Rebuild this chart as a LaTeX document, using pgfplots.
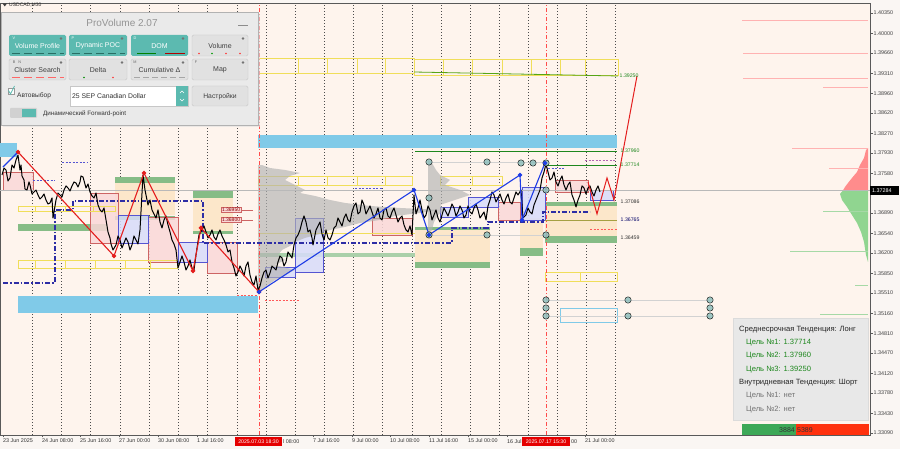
\documentclass[border=0pt]{standalone}
\usepackage{pgfplots}
\pgfplotsset{compat=1.18}
\usepackage{fontspec}
\setmainfont{Liberation Sans}
\definecolor{plotbg}{RGB}{254,244,237}
\definecolor{outbg}{RGB}{250,246,243}
\definecolor{peach}{RGB}{252,231,202}
\definecolor{zgreen}{RGB}{134,188,134}
\definecolor{skyb}{RGB}{128,202,232}
\definecolor{pinkf}{RGB}{250,216,216}
\definecolor{pinkd}{RGB}{205,100,100}
\definecolor{bluef}{RGB}{216,220,250}
\definecolor{blued}{RGB}{85,85,210}
\definecolor{yell}{RGB}{240,222,90}
\definecolor{navy2}{RGB}{45,45,165}
\definecolor{zred}{RGB}{228,30,30}
\definecolor{zblue}{RGB}{30,60,230}
\definecolor{tealdot}{RGB}{143,190,188}
\definecolor{lvlgreen}{RGB}{30,135,30}
\definecolor{panelbg}{RGB}{234,234,234}
\definecolor{btnteal}{RGB}{92,186,176}
\definecolor{btngray}{RGB}{225,225,225}
\definecolor{darkteal}{RGB}{40,110,100}
\newcommand{\tf}{\fontsize{5.4}{6}\selectfont}
\newcommand{\lf}{\fontsize{5.2}{6}\selectfont}
\begin{document}
\begin{tikzpicture}
\fill[outbg] (0,-14pt) rectangle (900pt,435pt);
\begin{axis}[
  at={(0,0)}, anchor=south west, scale only axis,
  width=870pt, height=432pt,
  xmin=0, xmax=870, ymin=1.33054, ymax=1.40523,
  axis background/.style={fill=plotbg},
  axis line style={draw=black!65, line width=0.5pt},
  tick align=outside,
  xtick pos=bottom, ytick pos=right, yticklabel pos=right,
  major tick length=2.5pt,
  tick style={black!65, line width=0.4pt},
  xtick={3,42,80,119,158,197,313,352,390,429,468,585},
  xticklabels={23 Jun 2025,24 Jun 08:00,25 Jun 16:00,27 Jun 00:00,30 Jun 08:00,1 Jul 16:00,7 Jul 16:00,9 Jul 00:00,10 Jul 08:00,11 Jul 16:00,15 Jul 00:00,21 Jul 00:00},
  x tick label style={anchor=north west, font=\tf, text=black!80, inner sep=0pt, yshift=-1pt},
  ytick={1.40350,1.40000,1.39660,1.39310,1.38960,1.38620,1.38270,1.37930,1.37580,1.36890,1.36540,1.36200,1.35850,1.35510,1.35160,1.34810,1.34470,1.34120,1.33780,1.33430,1.33090},
  yticklabels={1.40350,1.40000,1.39660,1.39310,1.38960,1.38620,1.38270,1.37930,1.37580,1.36890,1.36540,1.36200,1.35850,1.35510,1.35160,1.34810,1.34470,1.34120,1.33780,1.33430,1.33090},
  y tick label style={anchor=west, font=\tf, text=black!75, inner sep=0pt, xshift=1pt},
  clip=true,
]
% grid (vertical dotted)
\pgfplotsinvokeforeach{32,61,90,120,149,178,207,237,266,295,324,353,382,412,441,470,499,528,557,586,615}{
  \draw[black!70, line width=0.5pt, dash pattern=on 1.1pt off 1.9pt] (#1,1.33054) -- (#1,1.40523);
}
% sky bands
\fill[skyb] (0,1.38103) rectangle (17,1.37861);
\fill[skyb] (258,1.38241) rectangle (617,1.38016);
\fill[skyb] (18,1.35457) rectangle (258,1.35164);
% peach zones
\fill[peach] (115,1.37463) rectangle (175,1.36858);
\fill[peach] (193,1.37152) rectangle (233,1.36565);
\fill[peach] (415,1.36599) rectangle (490,1.35959);
\fill[peach] (520,1.36806) rectangle (543,1.36219);
\fill[peach] (545,1.37066) rectangle (617,1.36478);
% green bars
\fill[zgreen] (115,1.37515) rectangle (175,1.37411);
\fill[zgreen] (115,1.36841) rectangle (175,1.36772);
\fill[zgreen] (18,1.36703) rectangle (108,1.36582);
\fill[zgreen] (193,1.37273) rectangle (233,1.37152);
\fill[zgreen] (193,1.36582) rectangle (233,1.36530);
\fill[zgreen] (415,1.36046) rectangle (490,1.35942);
\fill[zgreen] (415,1.36651) rectangle (490,1.36599);
\fill[zgreen!70] (258,1.36201) rectangle (415,1.36132);
\fill[zgreen] (520,1.36288) rectangle (543,1.36149);
\fill[zgreen] (545,1.36495) rectangle (617,1.36374);
\fill[zgreen] (545,1.37083) rectangle (617,1.37014);
% pink boxes
\filldraw[fill=pinkf, draw=pinkd, line width=0.5pt, fill opacity=0.85] (3,1.37601) rectangle (33,1.37290);
\filldraw[fill=pinkf, draw=pinkd, line width=0.5pt, fill opacity=0.85] (90,1.37238) rectangle (118,1.36374);
\filldraw[fill=pinkf, draw=pinkd, line width=0.5pt, fill opacity=0.85] (148,1.36824) rectangle (178,1.36046);
\filldraw[fill=pinkf, draw=pinkd, line width=0.5pt, fill opacity=0.85] (207,1.36392) rectangle (237,1.35855);
\filldraw[fill=pinkf, draw=pinkd, line width=0.5pt, fill opacity=0.85] (372,1.36806) rectangle (412,1.36513);
\filldraw[fill=pinkf, draw=pinkd, line width=0.5pt, fill opacity=0.85] (498,1.37083) rectangle (520,1.36772);
\filldraw[fill=pinkf, draw=pinkd, line width=0.5pt, fill opacity=0.85] (555,1.37463) rectangle (588,1.37256);
% blue boxes
\filldraw[fill=bluef, draw=blued, line width=0.5pt, fill opacity=0.85] (118,1.36858) rectangle (148,1.36374);
\filldraw[fill=bluef, draw=blued, line width=0.5pt, fill opacity=0.85] (178,1.36392) rectangle (207,1.36046);
\filldraw[fill=bluef, draw=blued, line width=0.5pt, fill opacity=0.85] (265,1.35959) rectangle (295,1.35786);
\filldraw[fill=bluef, draw=blued, line width=0.5pt, fill opacity=0.85] (295,1.36806) rectangle (323,1.35872);
\filldraw[fill=bluef, draw=blued, line width=0.5pt, fill opacity=0.85] (440,1.36997) rectangle (468,1.36824);
\filldraw[fill=bluef, draw=blued, line width=0.5pt, fill opacity=0.85] (468,1.37169) rectangle (498,1.36997);
\filldraw[fill=bluef, draw=blued, line width=0.5pt, fill opacity=0.85] (522,1.37342) rectangle (545,1.36772);
\filldraw[fill=bluef, draw=blued, line width=0.5pt, fill opacity=0.85] (590,1.37290) rectangle (613,1.37117);
% yellow outline boxes
\begin{scope}[yell, line width=0.6pt]
\draw (258,1.39572) rectangle (298,1.39313);
\draw (298,1.39572) rectangle (327,1.39313);
\draw (327,1.39572) rectangle (357,1.39313);
\draw (357,1.39572) rectangle (385,1.39313);
\draw (385,1.39572) rectangle (414,1.39313);
\draw (414,1.39555) rectangle (443,1.39278);
\draw (443,1.39555) rectangle (472,1.39278);
\draw (472,1.39555) rectangle (502,1.39278);
\draw (502,1.39555) rectangle (531,1.39278);
\draw (531,1.39555) rectangle (560,1.39278);
\draw (560,1.39555) rectangle (585,1.39278);
\draw (585,1.39555) rectangle (618,1.39278);
\draw (258,1.37533) rectangle (298,1.37377);
\draw (298,1.37533) rectangle (327,1.37377);
\draw (327,1.37533) rectangle (357,1.37377);
\draw (357,1.37533) rectangle (385,1.37377);
\draw (385,1.37533) rectangle (412,1.37377);
\draw (440,1.37533) rectangle (472,1.37377);
\draw (472,1.37533) rectangle (502,1.37377);
\draw (18,1.37014) rectangle (35,1.36928);
\draw (35,1.37014) rectangle (65,1.36928);
\draw (65,1.37014) rectangle (93,1.36928);
\draw (93,1.37014) rectangle (115,1.36928);
\draw (18,1.36080) rectangle (35,1.35942);
\draw (35,1.36080) rectangle (65,1.35942);
\draw (65,1.36080) rectangle (95,1.35942);
\draw (95,1.36080) rectangle (125,1.35942);
\draw (125,1.36080) rectangle (150,1.35942);
\draw (150,1.36080) rectangle (177,1.35942);
\draw (545,1.35872) rectangle (580,1.35717);
\draw (580,1.35872) rectangle (617,1.35717);
\draw (258,1.36547) -- (415,1.36547);
\end{scope}
\draw[skyb, line width=0.6pt] (560,1.35250) rectangle (617,1.35008);
% gray volume profiles
\addplot[fill=gray!60, draw=none, opacity=0.65] coordinates {(258,1.37722)(262,1.37722)(270,1.37670)(285,1.37636)(300,1.37584)(290,1.37533)(285,1.37463)(295,1.37377)(305,1.37290)(300,1.37238)(315,1.37187)(330,1.37117)(345,1.37066)(370,1.37014)(400,1.36979)(440,1.36945)(420,1.36893)(395,1.36841)(380,1.36772)(360,1.36720)(345,1.36651)(330,1.36599)(320,1.36530)(305,1.36461)(295,1.36392)(290,1.36322)(282,1.36253)(278,1.36167)(285,1.36080)(275,1.35994)(295,1.35907)(285,1.35820)(275,1.35734)(268,1.35648)(262,1.35561)(258,1.35527)} -- cycle;
\addplot[fill=gray!60, draw=none, opacity=0.65] coordinates {(428,1.37809)(432,1.37757)(436,1.37636)(440,1.37550)(450,1.37463)(445,1.37377)(460,1.37290)(470,1.37204)(455,1.37117)(440,1.37031)(445,1.36945)(438,1.36858)(434,1.36737)(432,1.36599)(428,1.36513)} -- cycle;
% right volume profile
\addplot[fill=red!45, draw=none] coordinates {(868,1.38016)(866,1.37981)(864,1.37843)(860,1.37722)(857,1.37601)(852,1.37498)(848,1.37411)(845,1.37342)(843,1.37284)(868,1.37284)} -- cycle;
\addplot[fill=green!45!gray!60, draw=none] coordinates {(868,1.37284)(843,1.37284)(840,1.37221)(842,1.37117)(847,1.36997)(852,1.36858)(857,1.36720)(861,1.36565)(864,1.36392)(866,1.36167)(868,1.36046)} -- cycle;
\begin{scope}[red!30, line width=0.6pt]
\draw (742,1.40229) -- (868,1.40229);
\draw (743,1.39659) -- (868,1.39659);
\draw (743,1.39227) -- (868,1.39227);
\draw (823,1.39071) -- (868,1.39071);
\draw (792,1.38016) -- (868,1.38016);
\draw (829,1.37670) -- (868,1.37670);
\end{scope}
\begin{scope}[green!40!gray!50, line width=0.6pt]
\draw (823,1.36928) -- (868,1.36928);
\draw (790,1.36236) -- (868,1.36236);
\draw (855,1.35648) -- (868,1.35648);
\draw (820,1.35147) -- (868,1.35147);
\end{scope}
% red date verticals
\draw[red!70, line width=0.6pt, dash pattern=on 4pt off 2pt on 1pt off 2pt] (259,1.33054) -- (259,1.40523);
\draw[red!70, line width=0.6pt, dash pattern=on 4pt off 2pt on 1pt off 2pt] (546,1.33054) -- (546,1.40523);
% levels
\addplot[gray!55, line width=0.4pt] coordinates {(0,1.37284)(870,1.37284)};
\addplot[lvlgreen!75!yellow, line width=0.8pt] coordinates {(414,1.39330)(618,1.39261)};
\addplot[lvlgreen, line width=0.8pt] coordinates {(415,1.37964)(617,1.37964)};
\addplot[lvlgreen, line width=0.8pt] coordinates {(545,1.37722)(617,1.37722)};
\addplot[yellow!60!black, line width=0.7pt] coordinates {(545,1.36772)(617,1.36772)};
% thin dashed
\begin{scope}[blued, line width=0.5pt, dash pattern=on 2pt off 1.5pt]
\draw (33,1.37463) -- (55,1.37463);
\draw (62,1.37774) -- (88,1.37774);
\draw (355,1.37325) -- (382,1.37325);
\draw (548,1.37670) -- (565,1.37670);
\draw[violet!60] (585,1.37809) -- (615,1.37809);
\draw[red!65] (590,1.36616) -- (617,1.36616);
\draw[red!65] (237,1.35475) -- (258,1.35475);
\draw[red!65] (265,1.35388) -- (300,1.35388);
\end{scope}
% grey connectors and teal dots
\begin{scope}[gray!35, line width=0.6pt]
\draw (429,1.37774) -- (546,1.37774);
\draw (429,1.36513) -- (546,1.36513);
\draw (546,1.35388) -- (710,1.35388);
\draw (546,1.35112) -- (710,1.35112);
\end{scope}
\addplot[only marks, mark=*, mark size=3.2pt, mark options={fill=tealdot, draw=none, fill opacity=0.85}] coordinates {(429,1.37774)(487,1.37774)(521,1.37757)(533,1.37757)(546,1.37757)(429,1.37152)(546,1.37290)(429,1.36513)(487,1.36513)(546,1.36513)(546,1.35388)(546,1.35250)(546,1.35112)(628,1.35388)(628,1.35112)(710,1.35388)(710,1.35250)(710,1.35112)};
% dark blue dash-dot level
\addplot[navy2, line width=1.8pt, dash pattern=on 5pt off 2pt on 1.5pt off 2pt] coordinates {(3,1.35682)(55,1.35682)(55,1.36945)(73,1.36945)(73,1.37100)(203,1.37100)(203,1.36374)(452,1.36374)(452,1.36634)(488,1.36634)(488,1.36737)(543,1.36737)(543,1.36910)(590,1.36910)};
% price
\addplot[black, line width=1pt, line join=round] coordinates {(2,1.37550)(4,1.37670)(6,1.37636)(8,1.37446)(10,1.37498)(12,1.37722)(14,1.37670)(16,1.37809)(18,1.37895)(20,1.37636)(21,1.37722)(22,1.37533)(24,1.37463)(25,1.37308)(27,1.37290)(29,1.37429)(30,1.37377)(32,1.37221)(34,1.37256)(36,1.37290)(38,1.37204)(40,1.37135)(42,1.37169)(44,1.37221)(46,1.37117)(48,1.37048)(50,1.37066)(52,1.37152)(53,1.36806)(56,1.37117)(58,1.37238)(60,1.37204)(62,1.37169)(64,1.37290)(66,1.37360)(68,1.37325)(70,1.37273)(72,1.37360)(74,1.37429)(76,1.37411)(78,1.37342)(80,1.37429)(81,1.37533)(83,1.37515)(86,1.37325)(88,1.37394)(90,1.37256)(92,1.37187)(94,1.37152)(96,1.37238)(98,1.37031)(100,1.36945)(102,1.36910)(104,1.36979)(106,1.36772)(108,1.36565)(110,1.36461)(111,1.36357)(113,1.36253)(116,1.36340)(118,1.36495)(120,1.36426)(122,1.36288)(124,1.36374)(126,1.36461)(128,1.36392)(130,1.36253)(132,1.36340)(134,1.36495)(136,1.36426)(138,1.36357)(140,1.36599)(143,1.37550)(145,1.37290)(148,1.37031)(150,1.37117)(152,1.36945)(154,1.36876)(156,1.36806)(158,1.36945)(160,1.36737)(162,1.36634)(164,1.36772)(166,1.36841)(168,1.36686)(170,1.36565)(172,1.36426)(174,1.36357)(176,1.36253)(178,1.35942)(180,1.36046)(182,1.36149)(184,1.36046)(186,1.35907)(188,1.35976)(190,1.36080)(192,1.35942)(194,1.35907)(196,1.36167)(199,1.36513)(202,1.36599)(204,1.36668)(206,1.36565)(208,1.36461)(210,1.36513)(212,1.36599)(214,1.36478)(216,1.36426)(218,1.36530)(220,1.36599)(222,1.36495)(224,1.36426)(226,1.36340)(228,1.36219)(230,1.36253)(232,1.36046)(234,1.35942)(236,1.35803)(238,1.35872)(240,1.35976)(242,1.35907)(244,1.35803)(246,1.35976)(248,1.36046)(250,1.35820)(252,1.35699)(254,1.35648)(256,1.35803)(258,1.35561)(260,1.35630)(262,1.35769)(264,1.35872)(266,1.35907)(268,1.35769)(270,1.35855)(272,1.35976)(274,1.35942)(276,1.35907)(278,1.36046)(280,1.36149)(282,1.36115)(284,1.35976)(286,1.36046)(288,1.36219)(290,1.36167)(292,1.36115)(294,1.36340)(296,1.36461)(298,1.36513)(300,1.36599)(302,1.36737)(304,1.36841)(306,1.36737)(308,1.36565)(310,1.36599)(312,1.36461)(313,1.36340)(316,1.36599)(318,1.36668)(320,1.36737)(322,1.36530)(324,1.36426)(326,1.36599)(328,1.36461)(330,1.36426)(332,1.36513)(334,1.36634)(336,1.36668)(338,1.36806)(340,1.36737)(342,1.36668)(344,1.36806)(346,1.36876)(348,1.36772)(350,1.36737)(352,1.36910)(354,1.37014)(356,1.37066)(358,1.36876)(360,1.36910)(362,1.37117)(364,1.37031)(366,1.36876)(368,1.36945)(370,1.37014)(372,1.36910)(374,1.36806)(376,1.36876)(378,1.36979)(380,1.36806)(382,1.36772)(384,1.36945)(386,1.36979)(388,1.36841)(390,1.36806)(392,1.36910)(394,1.36979)(396,1.36858)(398,1.36737)(400,1.36806)(402,1.36841)(404,1.36686)(406,1.36599)(408,1.36565)(410,1.36668)(412,1.36513)(414,1.37204)(416,1.36876)(418,1.36979)(420,1.37117)(422,1.36945)(424,1.36806)(426,1.36858)(428,1.37014)(430,1.36945)(432,1.36772)(434,1.36858)(436,1.36945)(438,1.36806)(440,1.36737)(442,1.36858)(444,1.36979)(446,1.36910)(448,1.36841)(450,1.36945)(452,1.37048)(454,1.36979)(456,1.36841)(458,1.36910)(460,1.37014)(462,1.36945)(464,1.36806)(466,1.36858)(468,1.37014)(470,1.36910)(472,1.36876)(474,1.36979)(476,1.37048)(478,1.36945)(480,1.36806)(482,1.36858)(484,1.36910)(486,1.36772)(488,1.37014)(490,1.37117)(492,1.37256)(494,1.37204)(496,1.37083)(498,1.37152)(500,1.37221)(502,1.37117)(504,1.37048)(506,1.37152)(508,1.37221)(510,1.37083)(512,1.37048)(514,1.37152)(516,1.37256)(518,1.37204)(521,1.37290)(523,1.36806)(526,1.36858)(528,1.36979)(530,1.36910)(532,1.36876)(534,1.37031)(536,1.37117)(538,1.37204)(540,1.37290)(542,1.37498)(544,1.37601)(545,1.37670)(546,1.37739)(548,1.37601)(550,1.37463)(552,1.37498)(554,1.37601)(556,1.37429)(558,1.37360)(560,1.37463)(562,1.37533)(564,1.37377)(566,1.37290)(568,1.37377)(570,1.37429)(572,1.37204)(574,1.37117)(576,1.36997)(578,1.37117)(580,1.37204)(582,1.37360)(584,1.37325)(586,1.37221)(588,1.37325)(590,1.37360)(592,1.37256)(594,1.37187)(596,1.37290)(598,1.37360)(600,1.37256)};
% zigzags
\addplot[zblue, line width=1.1pt] coordinates {(3,1.37687)(18,1.37947)};
\addplot[zred, line width=1.1pt, mark=*, mark size=1.7pt, mark options={fill=zred, draw=zred}] coordinates {(18,1.37947)(114,1.36149)(144,1.37584)(193,1.35890)(201,1.36634)(259,1.35527)};
\addplot[zblue, line width=1.1pt, mark=*, mark size=1.6pt, mark options={fill=zblue, draw=zblue}] coordinates {(259,1.35527)(414,1.37290)(429,1.36513)(520,1.37550)(522,1.36772)(545,1.37757)};
\addplot[zred, line width=1pt] coordinates {(588,1.37429)(597,1.36876)(607,1.37498)(614,1.37117)(637,1.39261)};
% level labels
\node[anchor=west, font=\lf, text=lvlgreen, inner sep=0.5pt] at (619,1.39261) {1.39250};
\node[anchor=west, font=\lf, text=lvlgreen, inner sep=0.5pt] at (620,1.37964) {1.37960};
\node[anchor=west, font=\lf, text=lvlgreen, inner sep=0.5pt] at (620,1.37722) {1.37714};
\node[anchor=west, font=\lf, text=black!80, inner sep=0.5pt] at (620,1.37083) {1.37086};
\node[anchor=west, font=\lf, text=blue!40!black, inner sep=0.5pt] at (620,1.36772) {1.36765};
\node[anchor=west, font=\lf, text=black!80, inner sep=0.5pt] at (620,1.36461) {1.36459};
\draw[pinkd, line width=0.5pt] (221,1.36945) -- (253,1.36945);
\draw[pinkd, line width=0.5pt] (221,1.36772) -- (253,1.36772);
\node[anchor=west, draw=pinkd, fill=pinkf, font=\fontsize{5}{5}\selectfont, text=red!55!black, inner sep=0.8pt] at (221,1.36945) {1.36950};
\node[anchor=west, draw=pinkd, fill=pinkf, font=\fontsize{5}{5}\selectfont, text=red!55!black, inner sep=0.8pt] at (221,1.36772) {1.36800};
\end{axis}
\begin{scope}[x=1pt,y=-1pt,yshift=435pt]
% header
\fill[black!75] (2.5,3.5) -- (7,3.5) -- (4.75,6.5) -- cycle;
\node[anchor=west, inner sep=0, font=\fontsize{5}{6}\selectfont, text=black!85] at (9,5.2) {USDCAD,M30};
% panel
\fill[black!12, opacity=0.6] (3,14) rectangle (260,127);
\filldraw[fill=panelbg, draw=black!30, line width=0.5pt] (1,12) rectangle (258,125);
\node[font=\fontsize{10}{11}\selectfont, text=black!42] at (122,22.5) {ProVolume 2.07};
\draw[black!45, line width=0.9pt] (238,25) -- (248,25);
% row 1
\fill[btnteal, rounded corners=1.5pt] (9,35) rectangle (66,56);
\fill[btnteal, rounded corners=1.5pt] (69,35) rectangle (127,56);
\fill[btnteal, rounded corners=1.5pt] (131,35) rectangle (188,56);
\filldraw[fill=btngray, draw=black!22, rounded corners=1.5pt] (192,35) rectangle (248,56);
\node[text=white, font=\fontsize{7}{8}\selectfont] at (37.5,46) {Volume Profile};
\node[text=white, font=\fontsize{7}{8}\selectfont] at (98,46) {Dynamic POC};
\node[text=white, font=\fontsize{7}{8}\selectfont] at (159.5,46) {DOM};
\node[text=black!75, font=\fontsize{7}{8}\selectfont] at (220,46) {Volume};
\draw[darkteal, line width=0.8pt, dash pattern=on 8pt off 4pt] (12,53.5) -- (64,53.5);
\draw[darkteal, line width=0.8pt, dash pattern=on 8pt off 4pt] (72,53.5) -- (125,53.5);
\draw[green!50!black, line width=0.8pt] (137,53.5) -- (156,53.5);
\draw[red!70!black, line width=0.8pt] (165,53.5) -- (185,53.5);
\fill[red!80] (199,53.5) circle (0.9);
\fill[green!60!black] (212,53.5) circle (0.9);
\fill[red!80] (226,53.5) circle (0.9);
\fill[red!80] (240,53.5) circle (0.9);
% row 2
\filldraw[fill=btngray, draw=black!22, rounded corners=1.5pt] (9,59) rectangle (66,80);
\filldraw[fill=btngray, draw=black!22, rounded corners=1.5pt] (69,59) rectangle (127,80);
\filldraw[fill=btngray, draw=black!22, rounded corners=1.5pt] (131,59) rectangle (188,80);
\filldraw[fill=btngray, draw=black!22, rounded corners=1.5pt] (192,59) rectangle (248,80);
\node[text=black!75, font=\fontsize{7}{8}\selectfont] at (37.5,70) {Cluster Search};
\node[text=black!75, font=\fontsize{7}{8}\selectfont] at (98,70) {Delta};
\node[text=black!75, font=\fontsize{7}{8}\selectfont] at (159.5,70) {Cumulative Δ};
\node[text=black!75, font=\fontsize{7}{8}\selectfont] at (220,70) {Map};
\draw[red!60, line width=0.7pt, dash pattern=on 8pt off 4pt] (12,77.5) -- (64,77.5);
\fill[green!55!black] (84,77.5) circle (0.9);
\fill[red!80] (113,77.5) circle (0.9);
\draw[gray!70, line width=0.7pt, dash pattern=on 6pt off 3pt] (134,77.5) -- (186,77.5);
% tabs and gears
\node[font=\fontsize{3.8}{4}\selectfont, text=white, inner sep=0] at (14,38) {V};
\node[font=\fontsize{3.8}{4}\selectfont, text=white, inner sep=0] at (73,38) {P};
\node[font=\fontsize{3.8}{4}\selectfont, text=white, inner sep=0] at (135,38) {D};
\node[font=\fontsize{3.8}{4}\selectfont, text=black!60, inner sep=0] at (17,62) {B \; N};
\node[font=\fontsize{3.8}{4}\selectfont, text=black!60, inner sep=0] at (135,62) {M};
\node[font=\fontsize{3.8}{4}\selectfont, text=black!60, inner sep=0] at (196,62) {F};
\foreach \gx in {61,122,183,243}{\fill[black!55] (\gx,38.5) circle (1.3); \fill[black!55] (\gx,62.5) circle (1.3);}
% row 3
\filldraw[fill=white, draw=black!40, line width=0.4pt] (8,88) rectangle (14,94);
\draw[btnteal, line width=0.8pt] (8.5,90.5) -- (10.5,94) -- (14.5,86);
\node[anchor=west, inner sep=0, text=black!80, font=\fontsize{6.6}{7}\selectfont] at (17,95.5) {Автовыбор};
\filldraw[fill=white, draw=black!22, line width=0.4pt] (70,86) rectangle (188,106);
\fill[btnteal] (176,86) rectangle (188,106);
\draw[white, line width=0.5pt] (180,93) -- (182,91) -- (184,93);
\draw[white, line width=0.5pt] (180,99) -- (182,101) -- (184,99);
\node[anchor=west, inner sep=0, text=black!80, font=\fontsize{6.8}{7}\selectfont] at (72,96.5) {25 SEP Canadian Dollar};
\filldraw[fill=btngray, draw=black!22, rounded corners=1.5pt] (192,86) rectangle (248,106);
\node[text=black!75, font=\fontsize{6.8}{7}\selectfont] at (220,96.5) {Настройки};
% row 4
\fill[black!18, rounded corners=1pt] (10,108) rectangle (37,118);
\fill[btnteal] (22,109) rectangle (36,117);
\node[anchor=west, inner sep=0, text=black!80, font=\fontsize{6.3}{7}\selectfont] at (43,113.5) {Динамический Forward-point};
% info box
\filldraw[fill=black!9, draw=black!14, line width=0.4pt] (733,318) rectangle (868,420);
\node[anchor=west, inner sep=0, text=black!85, font=\fontsize{7.6}{8}\selectfont] at (739,330) {Среднесрочная Тенденция: Лонг};
\node[anchor=west, inner sep=0, text=lvlgreen, font=\fontsize{7.6}{8}\selectfont] at (746,343) {Цель №1: 1.37714};
\node[anchor=west, inner sep=0, text=lvlgreen, font=\fontsize{7.6}{8}\selectfont] at (746,356) {Цель №2: 1.37960};
\node[anchor=west, inner sep=0, text=lvlgreen, font=\fontsize{7.6}{8}\selectfont] at (746,369.5) {Цель №3: 1.39250};
\node[anchor=west, inner sep=0, text=black!85, font=\fontsize{7.6}{8}\selectfont] at (739,383) {Внутридневная Тенденция: Шорт};
\node[anchor=west, inner sep=0, text=black!55, font=\fontsize{7.6}{8}\selectfont] at (746,396) {Цель №1: нет};
\node[anchor=west, inner sep=0, text=black!55, font=\fontsize{7.6}{8}\selectfont] at (746,409.5) {Цель №2: нет};
\fill[green!40!gray!80!teal] (742,424) rectangle (796,435);
\fill[red!70!orange!95] (796,424) rectangle (869,435);
\node[anchor=east, inner sep=0.5pt, text=black!80, font=\fontsize{7}{8}\selectfont] at (795.5,429.8) {3884};
\node[anchor=west, inner sep=0.5pt, text=black!80, font=\fontsize{7}{8}\selectfont] at (796.5,429.8) {5389};
% current price label
\fill[black] (870,186) rectangle (899,195);
\node[anchor=west, inner sep=0, text=white, font=\tf] at (872,190.6) {1.37284};
% partially hidden date labels (visible parts only)
\node[anchor=west, inner sep=0, text=black!80, font=\tf] at (283,441.2) {l 08:00};
\node[anchor=west, inner sep=0, text=black!80, font=\tf] at (507,441.2) {16 Jul};
\node[anchor=west, inner sep=0, text=black!80, font=\tf] at (571,441.2) {00};
\draw[black!65, line width=0.4pt] (507,435) -- (507,437.5);
% red date labels
\fill[red!90!black] (235,437) rectangle (282,446);
\node[inner sep=0, text=white, font=\fontsize{5.2}{6}\selectfont] at (258.5,441.5) {2025.07.03 18:30};
\fill[red!90!black] (522,437) rectangle (570,446);
\node[inner sep=0, text=white, font=\fontsize{5.2}{6}\selectfont] at (546,441.5) {2025.07.17 15:30};
\end{scope}
\pgfresetboundingbox
\useasboundingbox (0,-14pt) rectangle (900pt,435pt);
\end{tikzpicture}
\end{document}
